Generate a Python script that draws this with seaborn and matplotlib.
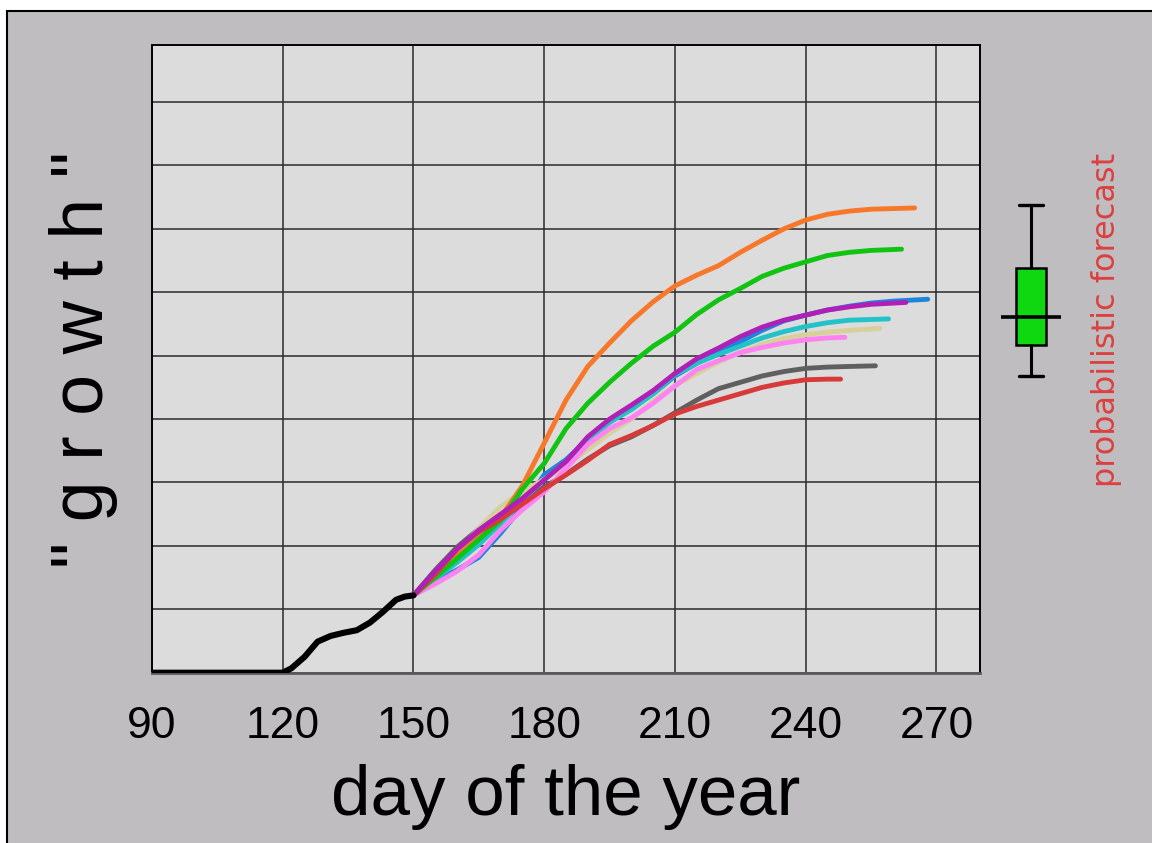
import matplotlib
matplotlib.use("Agg")
import matplotlib.pyplot as plt
from matplotlib.patches import Rectangle
from matplotlib.ticker import MultipleLocator
import pandas as pd
import seaborn as sns

# Observed growth up to the forecast start
obs_days = [90, 120, 122, 125, 128, 131, 134, 137, 140, 143, 146, 148, 150]
obs_growth = [0, 0, 0.07, 0.25, 0.49, 0.58, 0.63, 0.67, 0.79, 0.96, 1.15, 1.20, 1.22]

# Ensemble members, common part (days 150..245)
ens_days = [150, 155, 160, 165, 170, 175, 180, 185, 190, 195,
            200, 205, 210, 215, 220, 225, 230, 235, 240, 245]
orange = [1.22, 1.52, 1.85, 2.12, 2.45, 2.95, 3.62, 4.30, 4.83, 5.20,
          5.55, 5.85, 6.10, 6.27, 6.42, 6.63, 6.82, 7.00, 7.14, 7.23]
green = [1.22, 1.50, 1.80, 2.10, 2.40, 2.90, 3.30, 3.85, 4.25, 4.58,
         4.88, 5.15, 5.37, 5.65, 5.88, 6.06, 6.25, 6.38, 6.48, 6.58]
magenta = [1.22, 1.60, 1.95, 2.25, 2.50, 2.75, 3.04, 3.33, 3.72, 4.00,
           4.22, 4.45, 4.72, 4.95, 5.12, 5.30, 5.45, 5.56, 5.64, 5.72]
blue = [1.22, 1.45, 1.62, 1.82, 2.20, 2.62, 3.12, 3.36, 3.68, 3.95,
        4.17, 4.40, 4.68, 4.88, 5.05, 5.22, 5.40, 5.55, 5.64, 5.72]
cyan = [1.22, 1.48, 1.74, 2.02, 2.35, 2.72, 3.05, 3.32, 3.68, 3.95,
        4.15, 4.40, 4.70, 4.88, 5.02, 5.15, 5.28, 5.38, 5.46, 5.52]
tan = [1.22, 1.55, 1.90, 2.28, 2.62, 2.85, 3.05, 3.26, 3.52, 3.78,
       4.00, 4.28, 4.53, 4.72, 4.90, 5.05, 5.18, 5.27, 5.33, 5.37]
pink = [1.22, 1.40, 1.60, 1.86, 2.25, 2.57, 2.85, 3.22, 3.60, 3.85,
        4.02, 4.25, 4.52, 4.78, 4.92, 5.05, 5.13, 5.20, 5.25, 5.28]
gray = [1.22, 1.62, 1.98, 2.27, 2.47, 2.68, 2.93, 3.13, 3.37, 3.58,
        3.72, 3.90, 4.10, 4.30, 4.48, 4.58, 4.68, 4.75, 4.80, 4.82]
red = [1.22, 1.55, 1.95, 2.22, 2.42, 2.66, 2.90, 3.12, 3.35, 3.60,
       3.74, 3.90, 4.08, 4.20, 4.30, 4.40, 4.50, 4.57, 4.62, 4.63]

# Member-specific final stretch (each run ends on its own day)
orange_tail_days, orange_tail = [250, 255, 260, 265], [7.28, 7.31, 7.32, 7.33]
green_tail_days, green_tail = [250, 255, 262], [6.63, 6.66, 6.68]
magenta_tail_days, magenta_tail = [250, 255, 263], [5.77, 5.81, 5.84]
blue_tail_days, blue_tail = [250, 255, 260, 268], [5.78, 5.83, 5.86, 5.89]
cyan_tail_days, cyan_tail = [250, 259], [5.56, 5.58]
tan_tail_days, tan_tail = [250, 257], [5.40, 5.43]
pink_tail_days, pink_tail = [249], [5.29]
gray_tail_days, gray_tail = [250, 256], [4.83, 4.84]
red_tail_days, red_tail = [248], [4.63]

# Summary of end-of-season values: whisker low, Q1, median, Q3, whisker high
forecast_summary = [4.68, 5.17, 5.61, 6.39, 7.38]

member_colors = {
    "gray": "#5f5f5f", "blue": "#1c86dc", "cyan": "#22c2c8",
    "tan": "#d6d09a", "pink": "#ff82f2", "orange": "#f7782a",
    "green": "#12c412", "red": "#d83a3a", "magenta": "#b01fb6",
}
draw_order = ["gray", "blue", "cyan", "tan", "pink", "orange", "green", "red", "magenta"]

members = {
    "orange": (orange, orange_tail_days, orange_tail),
    "green": (green, green_tail_days, green_tail),
    "magenta": (magenta, magenta_tail_days, magenta_tail),
    "blue": (blue, blue_tail_days, blue_tail),
    "cyan": (cyan, cyan_tail_days, cyan_tail),
    "tan": (tan, tan_tail_days, tan_tail),
    "pink": (pink, pink_tail_days, pink_tail),
    "gray": (gray, gray_tail_days, gray_tail),
    "red": (red, red_tail_days, red_tail),
}
rows = []
for name, (vals, tdays, tvals) in members.items():
    for d, v in zip(ens_days + tdays, vals + tvals):
        rows.append({"member": name, "day": d, "growth": v})
ens_df = pd.DataFrame(rows)
obs_df = pd.DataFrame({"day": obs_days, "growth": obs_growth})

sns.set_style("white")
plt.rcParams["font.family"] = ["Liberation Sans", "DejaVu Sans"]

W, H, DPI = 1152, 843, 100
fig = plt.figure(figsize=(W / DPI, H / DPI), dpi=DPI, facecolor="white")

# framed grey panel
fig.patches.append(Rectangle((7 / W, -0.02), 1.1, 1 - 11 / H + 0.02,
                             transform=fig.transFigure, facecolor="#bfbdbf",
                             edgecolor="black", linewidth=1.5, zorder=-10))

ax_left, ax_right, ax_top, ax_bottom = 152, 980, 45, 672.7
ax = fig.add_axes([ax_left / W, 1 - ax_bottom / H,
                   (ax_right - ax_left) / W, (ax_bottom - ax_top) / H])
ax.set_facecolor("#dcdcdc")

sns.lineplot(data=ens_df, x="day", y="growth", hue="member",
             hue_order=draw_order, palette=member_colors, linewidth=3.5,
             estimator=None, sort=True, legend=False, ax=ax, zorder=3)
sns.lineplot(data=obs_df, x="day", y="growth", color="black",
             linewidth=4.4, estimator=None, legend=False, ax=ax, zorder=4)

ax.set_xlim(90, 280)
ax.set_ylim(0, 9.9)
ax.xaxis.set_major_locator(MultipleLocator(30))
ax.xaxis.set_minor_locator(MultipleLocator(10))
ax.yaxis.set_major_locator(MultipleLocator(2))
ax.yaxis.set_minor_locator(MultipleLocator(1))
ax.set_yticklabels([])
ax.grid(True, which="major", axis="x", color="#2a2a2a", linewidth=1.1)
ax.grid(True, which="both", axis="y", color="#2a2a2a", linewidth=1.1)
ax.set_axisbelow(True)
ax.tick_params(axis="x", which="major", direction="out", length=7, width=1.1,
               color="#404040", labelsize=32, pad=17, labelcolor="black")
ax.tick_params(axis="x", which="minor", direction="out", length=4, width=1.1,
               color="#404040")
ax.tick_params(axis="y", which="major", direction="out", length=7, width=1.1,
               color="#404040")
ax.tick_params(axis="y", which="minor", direction="out", length=4, width=1.1,
               color="#404040")
ax.set_xlabel("")
ax.set_ylabel("")
for side in ["left", "top", "right"]:
    ax.spines[side].set_color("black")
    ax.spines[side].set_linewidth(1.4)
ax.spines["bottom"].set_color("#5a5a5a")
ax.spines["bottom"].set_linewidth(2.0)

fig.text((ax_left + ax_right) / 2 / W, 1 - 815 / H, "day of the year",
         ha="center", va="baseline", fontsize=51, color="black")
fig.text(103 / W, 1 - 360 / H, '" g r o w t h "', rotation=90,
         rotation_mode="anchor", ha="center", va="baseline",
         fontsize=53, color="black")

# probabilistic forecast glyph on the same vertical scale
bx = fig.add_axes([991 / W, 1 - ax_bottom / H, 80 / W, (ax_bottom - ax_top) / H])
bx.set_xlim(0, 1)
bx.set_ylim(0, 9.9)
bx.axis("off")
lo, q1, med, q3, hi = forecast_summary
bx.bxp([{"whislo": lo, "q1": q1, "med": med, "q3": q3, "whishi": hi, "fliers": []}],
       positions=[0.5], widths=0.375, capwidths=0.3, patch_artist=True,
       showfliers=False,
       boxprops=dict(facecolor="#10d810", edgecolor="black", linewidth=1.8),
       whiskerprops=dict(color="black", linewidth=2.2),
       capprops=dict(color="black", linewidth=2.4),
       medianprops=dict(visible=False))
bx.hlines(med, 0.13, 0.87, color="black", linewidth=2.6, zorder=5)

fig.text(1115 / W, 1 - 320 / H, "probabilistic forecast", rotation=90,
         rotation_mode="anchor", ha="center", va="baseline",
         fontsize=23, color="#dc4040", family=["DejaVu Sans"])

fig.savefig("out.png", dpi=DPI, facecolor=fig.get_facecolor())
